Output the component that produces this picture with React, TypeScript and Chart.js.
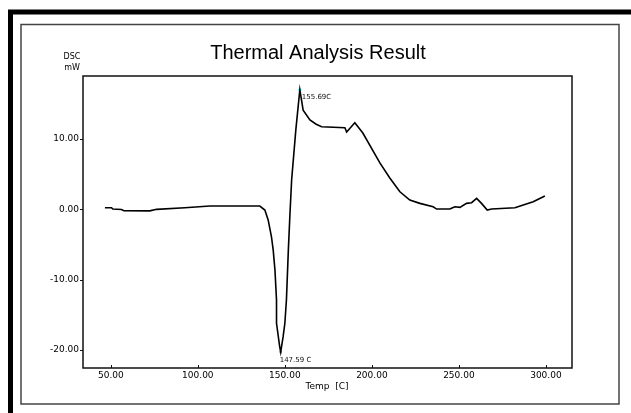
import React, { useEffect, useRef } from "react";
import { Chart, registerables } from "chart.js";

Chart.register(...registerables);

const tempC: number[] = [46.6, 50.4, 51.1, 56.1, 57.5, 72.4, 76.3, 92.5, 106.9, 135.6, 138.5, 140.4, 142.3, 143.3, 144.3, 145.2, 145.2, 147.0, 147.6, 149.0, 150.0, 150.9, 152.0, 152.9, 153.9, 156.3, 158.6, 159.6, 160.5, 164.4, 168.0, 171.1, 184.5, 185.5, 190.2, 194.8, 204.6, 210.3, 216.1, 221.8, 227.6, 235.2, 237.2, 244.8, 247.7, 250.6, 254.4, 257.3, 260.2, 263.0, 266.3, 268.8, 282.2, 287.0, 292.7, 299.4];
const dscMW: number[] = [0.23, 0.23, 0.04, -0.03, -0.2, -0.22, 0.0, 0.23, 0.47, 0.47, -0.1, -1.5, -3.9, -5.8, -8.6, -12.9, -16.2, -19.5, -20.3, -18.1, -16.2, -12.9, -5.8, -0.8, 4.2, 11.3, 17.0, 15.5, 14.1, 12.7, 12.1, 11.75, 11.6, 11.0, 12.3, 10.85, 6.6, 4.45, 2.5, 1.32, 0.85, 0.37, 0.04, 0.04, 0.37, 0.28, 0.85, 0.94, 1.56, 0.85, -0.1, 0.04, 0.23, 0.61, 1.08, 1.9];

const xTicks: number[] = [50, 100, 150, 200, 250, 300];
const yTicks: number[] = [-20, -10, 0, 10];

const markerTemps: number[] = [158.6, 147.6];
const markerValues: number[] = [17.0, -20.3];
const markerLabels: string[] = ["155.69C", "147.59 C"];

const titleText = "Thermal Analysis Result";
const yUnitLines: string[] = ["DSC", "mW"];
const xAxisTitle = "Temp  [C]";

const decorPlugin = {
  id: "decor",
  beforeDraw(chart: any) {
    const ctx = chart.ctx;
    ctx.save();
    ctx.fillStyle = "#fff";
    ctx.fillRect(0, 0, chart.width, chart.height);
    // outer thick frame
    ctx.strokeStyle = "#000";
    ctx.lineWidth = 5;
    ctx.strokeRect(10.5, 12, 640, 420);
    // inner grey frame
    ctx.strokeStyle = "#444";
    ctx.lineWidth = 1.5;
    ctx.strokeRect(21, 24.5, 598, 379.5);
    ctx.restore();
  },
  afterDraw(chart: any) {
    const ctx = chart.ctx;
    const a = chart.chartArea;
    const xs = chart.scales.x;
    const ys = chart.scales.y;
    ctx.save();
    // plot frame
    ctx.strokeStyle = "#111";
    ctx.lineWidth = 1.5;
    ctx.strokeRect(a.left, a.top, a.right - a.left, a.bottom - a.top);
    // ticks
    ctx.lineWidth = 1;
    ctx.beginPath();
    yTicks.forEach((v) => {
      const y = Math.round(ys.getPixelForValue(v)) + 0.5;
      ctx.moveTo(a.left - 3, y);
      ctx.lineTo(a.left, y);
    });
    xTicks.forEach((v) => {
      const x = Math.round(xs.getPixelForValue(v)) + 0.5;
      ctx.moveTo(x, a.bottom);
      ctx.lineTo(x, a.bottom - 3);
    });
    ctx.stroke();
    // tick labels
    ctx.fillStyle = "#000";
    ctx.font = "9px 'DejaVu Sans'";
    ctx.textAlign = "right";
    ctx.textBaseline = "middle";
    yTicks.forEach((v) => {
      ctx.fillText(v.toFixed(2), a.left - 4, ys.getPixelForValue(v));
    });
    ctx.textAlign = "center";
    ctx.textBaseline = "top";
    xTicks.forEach((v) => {
      ctx.fillText(v.toFixed(2), xs.getPixelForValue(v), a.bottom + 3);
    });
    // axis titles
    ctx.textBaseline = "middle";
    ctx.fillText(xAxisTitle, 327, 387);
    ctx.font = "8px 'DejaVu Sans'";
    ctx.fillText(yUnitLines[0], 72, 57);
    ctx.fillText(yUnitLines[1], 72, 68);
    // title
    ctx.font = "20px 'Liberation Sans', Arial, sans-serif";
    ctx.fillStyle = "#000";
    ctx.fillText(titleText, 318, 53);
    // marker labels
    ctx.font = "7px 'DejaVu Sans'";
    ctx.textAlign = "left";
    ctx.fillStyle = "#111";
    markerTemps.forEach((t, i) => {
      const px = xs.getPixelForValue(t);
      const py = ys.getPixelForValue(markerValues[i]);
      if (i === 0) ctx.fillText(markerLabels[i], px + 2, py + 7);
      else ctx.fillText(markerLabels[i], px - 1, py + 8);
    });
    ctx.restore();
  },
};

export default function App() {
  const ref = useRef<HTMLCanvasElement | null>(null);
  useEffect(() => {
    if (!ref.current) return;
    const chart = new Chart(ref.current, {
      type: "line",
      data: {
        datasets: [
          {
            data: tempC.map((x, i) => ({ x, y: dscMW[i] })),
            borderColor: "#000",
            borderWidth: 1.6,
            pointRadius: 0,
            tension: 0,
            fill: false,
          },
          {
            data: markerTemps.map((x, i) => ({ x, y: markerValues[i] })),
            showLine: false,
            pointRadius: 1.5,
            pointBackgroundColor: "#00e5ff",
            pointBorderWidth: 0,
          },
        ],
      },
      options: {
        animation: false,
        responsive: false,
        layout: { padding: { left: 23, top: 76, right: 59, bottom: 0 } },
        plugins: { legend: { display: false }, tooltip: { enabled: false } },
        scales: {
          x: {
            type: "linear",
            min: 34,
            max: 315,
            grid: { display: false },
            border: { display: false },
            ticks: { display: false },
            afterFit: (s: any) => { s.height = 45; },
          },
          y: {
            type: "linear",
            min: -22.56,
            max: 18.96,
            grid: { display: false },
            border: { display: false },
            ticks: { display: false },
            afterFit: (s: any) => { s.width = 60; },
          },
        },
      },
      plugins: [decorPlugin],
    });
    return () => chart.destroy();
  }, []);
  return (
    <div style={{ position: "fixed", left: 0, top: 0, width: 631, height: 413 }}>
      <canvas ref={ref} width={631} height={413} style={{ width: 631, height: 413, display: "block" }} />
    </div>
  );
}
